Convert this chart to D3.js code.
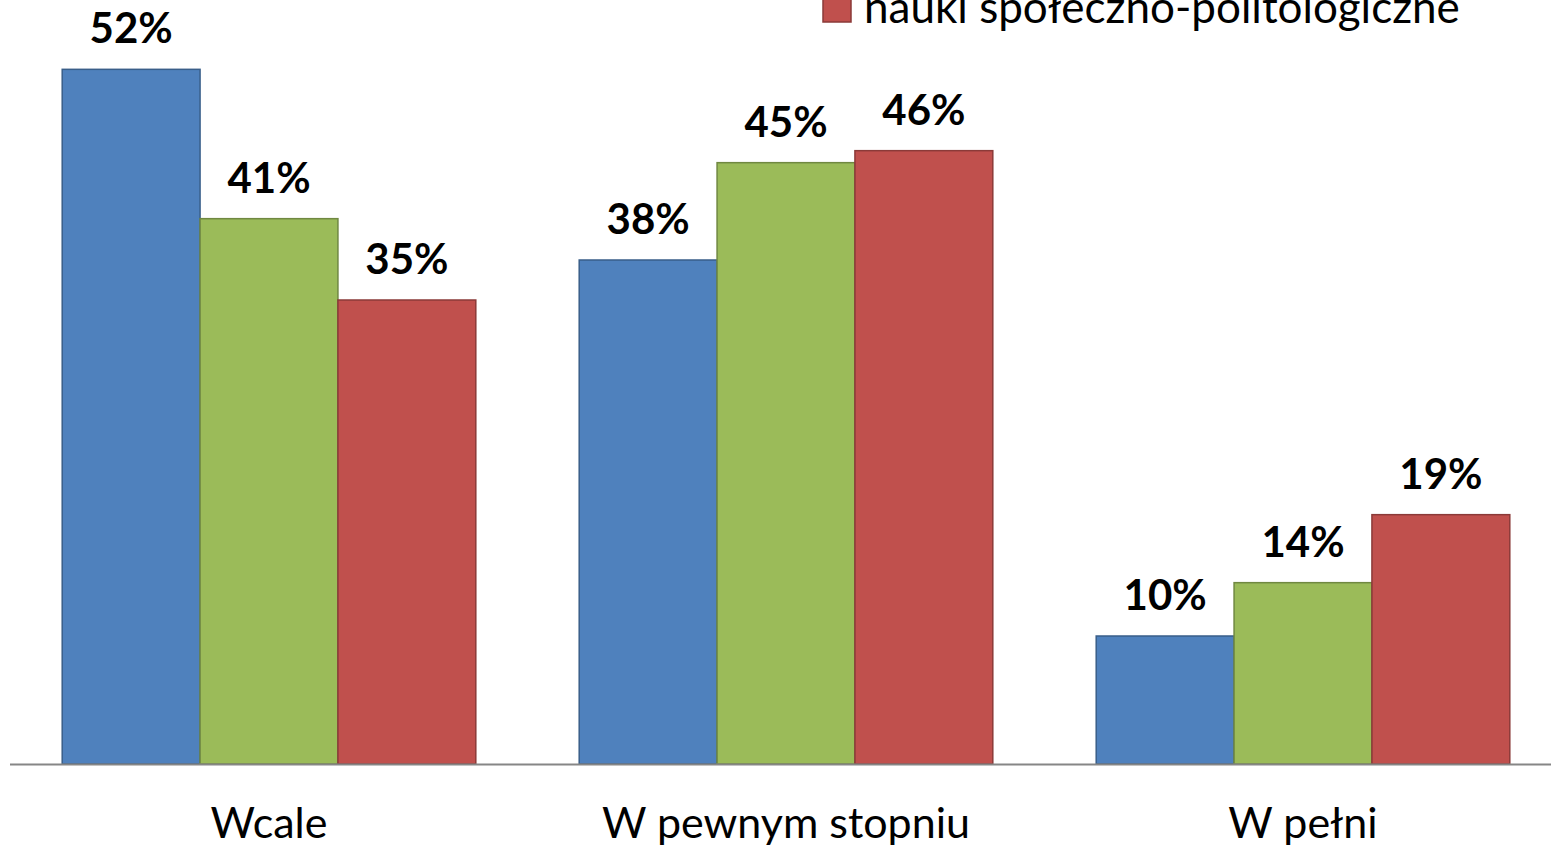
<!DOCTYPE html>
<html>
<head>
<meta charset="utf-8">
<script src="https://d3js.org/d3.v7.min.js"></script>
<style>
  body { margin: 0; background: #fff; }
  svg { display: block; }
</style>
</head>
<body>
<div id="chart"></div>
<script>
var width = 1551;
var height = 848;

// data
var categories = ["Wcale", "W pewnym stopniu", "W pełni"];
var seriesKeys = ["s1", "s2", "s3"];
var seriesColors = ["#4F81BD", "#9BBB59", "#C0504D"];
var values1 = [0.521, 0.378, 0.096];
var values2 = [0.409, 0.451, 0.136];
var values3 = [0.348, 0.460, 0.187];
var legendLabel = "nauki społeczno-politologiczne";

var allValues = [values1, values2, values3];

var font = "Lato, 'Open Sans', sans-serif";

var svg = d3.select("#chart").append("svg")
    .attr("width", width)
    .attr("height", height);

var x0 = d3.scaleBand()
    .domain(categories)
    .range([10.5, 1561.5])
    .paddingInner(0.2)
    .paddingOuter(0.1);

var x1 = d3.scaleBand()
    .domain(seriesKeys)
    .range([0, x0.bandwidth()]);

var y = d3.scaleLinear()
    .domain([0, 0.6])
    .range([764, -36]);

var color = d3.scaleOrdinal().domain(seriesKeys).range(seriesColors);

var rows = [];
categories.forEach(function(c, i) {
  seriesKeys.forEach(function(k, j) {
    rows.push({cat: c, key: k, value: allValues[j][i]});
  });
});

var bars = svg.append("g");
bars.selectAll("rect")
    .data(rows)
  .enter().append("rect")
    .attr("x", d => x0(d.cat) + x1(d.key))
    .attr("y", d => y(d.value))
    .attr("width", x1.bandwidth())
    .attr("height", d => y(0) - y(d.value))
    .attr("fill", d => color(d.key))
    .attr("stroke", d => d3.rgb(color(d.key)).darker(0.9))
    .attr("stroke-width", 1.5);

svg.append("g").selectAll("text")
    .data(rows)
  .enter().append("text")
    .attr("x", d => x0(d.cat) + x1(d.key) + x1.bandwidth() / 2)
    .attr("y", d => y(d.value) - 26)
    .attr("text-anchor", "middle")
    .style("font-family", font)
    .style("font-weight", "bold")
    .style("font-size", "42px")
    .attr("fill", "#000")
    .text(d => d3.format(".0%")(d.value));

// baseline
svg.append("line")
    .attr("x1", 10)
    .attr("x2", width)
    .attr("y1", y(0) + 0.5)
    .attr("y2", y(0) + 0.5)
    .attr("stroke", "#868686")
    .attr("stroke-width", 2);

var xAxis = svg.append("g")
    .attr("transform", "translate(0," + y(0) + ")")
    .call(d3.axisBottom(x0).tickSize(0).tickPadding(0));
xAxis.select(".domain").remove();
xAxis.selectAll("text")
    .attr("dy", 0)
    .attr("y", 74)
    .style("font-family", font)
    .style("font-size", "43px")
    .attr("fill", "#000");

// legend (only the last entry is inside the frame)
var legend = svg.append("g").attr("transform", "translate(823,0)");
legend.append("rect")
    .attr("x", 0)
    .attr("y", -6)
    .attr("width", 28)
    .attr("height", 28)
    .attr("fill", seriesColors[2])
    .attr("stroke", d3.rgb(seriesColors[2]).darker(0.9))
    .attr("stroke-width", 1.5);
legend.append("text")
    .attr("x", 41)
    .attr("y", 23)
    .style("font-family", font)
    .style("font-size", "44px")
    .attr("fill", "#000")
    .text(legendLabel);
</script>
</body>
</html>
